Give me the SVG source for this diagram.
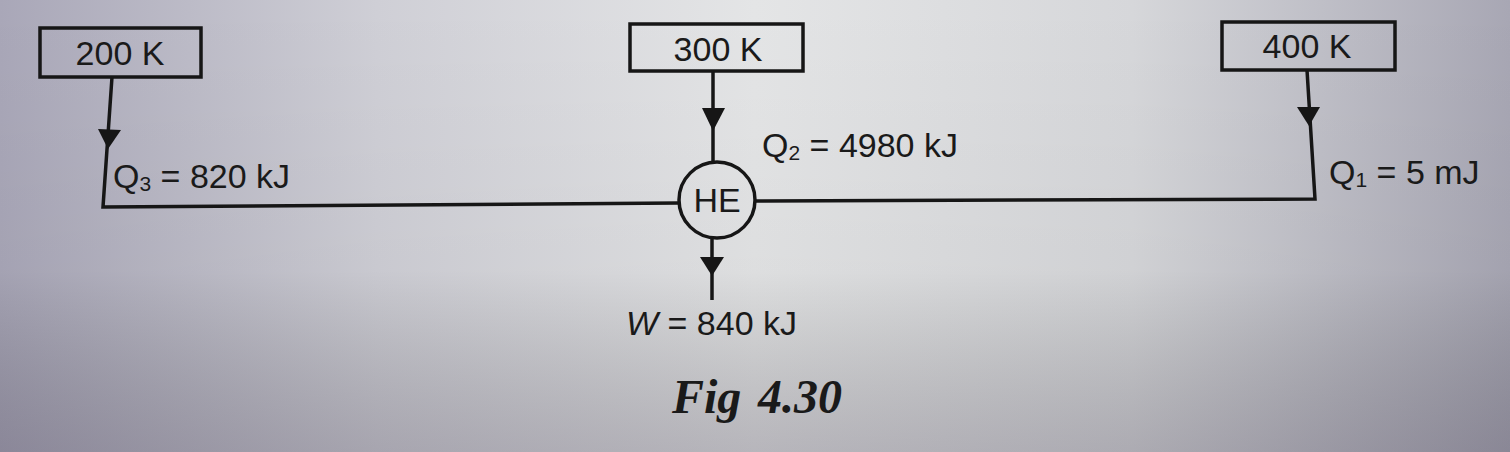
<svg xmlns="http://www.w3.org/2000/svg" width="1510" height="452" viewBox="0 0 1510 452">
  <defs>
    <linearGradient id="bg" x1="0" y1="0" x2="1" y2="0">
      <stop offset="0" stop-color="#a9a7b8"/>
      <stop offset="0.25" stop-color="#cfcfd6"/>
      <stop offset="0.5" stop-color="#e4e5e6"/>
      <stop offset="0.75" stop-color="#d6d7da"/>
      <stop offset="1" stop-color="#a8a7b4"/>
    </linearGradient>
    <linearGradient id="shade" x1="0" y1="0" x2="0" y2="1">
      <stop offset="0" stop-color="#000" stop-opacity="0"/>
      <stop offset="0.6" stop-color="#000" stop-opacity="0.03"/>
      <stop offset="1" stop-color="#30283c" stop-opacity="0.25"/>
    </linearGradient>
    <style>
      .box { fill: none; stroke: #161616; stroke-width: 3.5; }
      .ln { fill: none; stroke: #161616; stroke-width: 3.5; }
      .ah { fill: #161616; stroke: none; }
      .t { font-family: "Liberation Sans", Arial, sans-serif; font-size: 34px; fill: #1a1a1a; }
      .sub { font-size: 21px; }
      .cap { font-family: "Liberation Serif", "Times New Roman", serif; font-size: 48px; font-weight: bold; font-style: italic; fill: #1a1a1a; }
    </style>
  </defs>
  <rect x="0" y="0" width="1510" height="452" fill="url(#bg)"/>
  <rect x="0" y="0" width="1510" height="452" fill="url(#shade)"/>

  <g id="connectors">
    <polyline class="ln" points="112,77 103,207 679,203"/>
    <path class="ah" d="M98,129 L121,130 L108,149 Z"/>
    <line class="ln" x1="713" y1="71" x2="713" y2="162"/>
    <path class="ah" d="M702,108 L725,108 L713,131 Z"/>
    <polyline class="ln" points="756,201 1315,199 1307,70"/>
    <path class="ah" d="M1297,107 L1320,107 L1309,126 Z"/>
    <line class="ln" x1="712" y1="237" x2="712" y2="300"/>
    <path class="ah" d="M700,257 L724,257 L712,276 Z"/>
  </g>

  <g id="res200">
    <rect class="box" x="40" y="28" width="161" height="49"/>
    <text class="t" x="120" y="65" text-anchor="middle">200 K</text>
  </g>
  <g id="res300">
    <rect class="box" x="630" y="24" width="173" height="47"/>
    <text class="t" x="718" y="61" text-anchor="middle">300 K</text>
  </g>
  <g id="res400">
    <rect class="box" x="1222" y="22" width="173" height="48"/>
    <text class="t" x="1307" y="58" text-anchor="middle">400 K</text>
  </g>
  <g id="he">
    <circle cx="717" cy="200" r="38" fill="none" stroke="#161616" stroke-width="3.5"/>
    <text class="t" x="717" y="212" text-anchor="middle">HE</text>
  </g>

  <g id="labels">
    <text class="t" x="113" y="188">Q<tspan class="sub" dy="3">3</tspan><tspan dy="-3"> = 820 kJ</tspan></text>
    <text class="t" x="762" y="157">Q<tspan class="sub" dy="3">2</tspan><tspan dy="-3"> = 4980 kJ</tspan></text>
    <text class="t" x="1329" y="184">Q<tspan class="sub" dy="3">1</tspan><tspan dy="-3"> = 5 mJ</tspan></text>
    <text class="t" x="626" y="335"><tspan font-style="italic">W</tspan> = 840 kJ</text>
    <text class="cap" x="672" y="413">Fig<tspan x="758">4.30</tspan></text>
  </g>
</svg>
